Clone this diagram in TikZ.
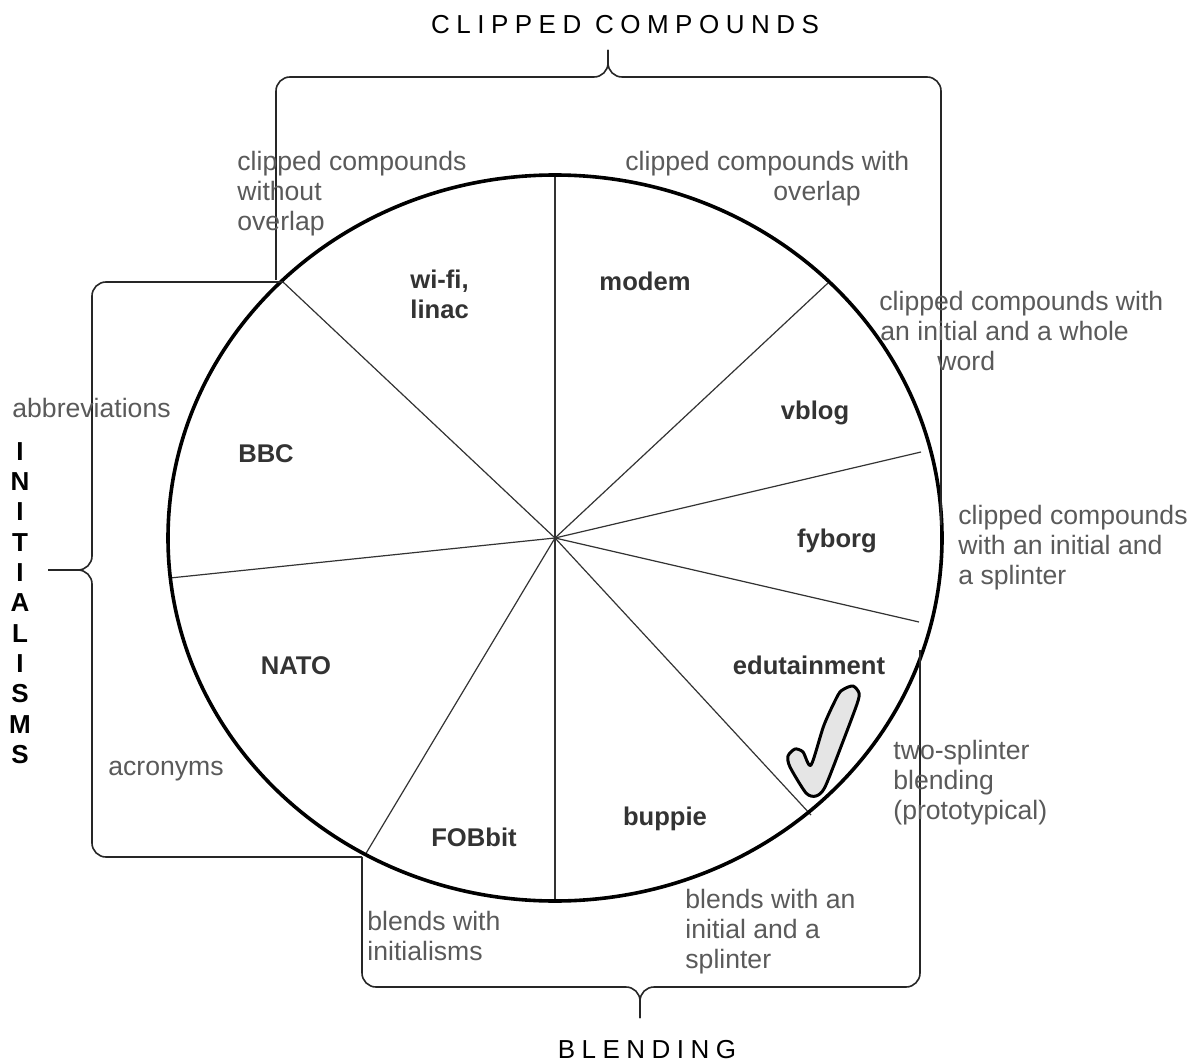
\documentclass[tikz,border=0pt]{standalone}
\usepackage{fontspec}
\setmainfont{Liberation Sans}
\definecolor{labelgray}{HTML}{5A5A5A}
\definecolor{wordgray}{HTML}{333333}
\tikzset{
  wheel/.style = {line width=1.8pt, draw=black},
  spoke/.style = {line width=0.6pt, draw=black!80},
  brace/.style = {line width=0.8pt, draw=black!85, rounded corners=7pt},
  note/.style = {anchor=north west, inner sep=0pt, align=left, text=labelgray,
    font=\fontsize{13.3}{15}\selectfont},
  word/.style = {anchor=base, inner sep=0pt, text=wordgray,
    font=\fontsize{12.8}{15}\selectfont\bfseries},
  heading/.style = {inner sep=0pt, text=black,
    font=\fontsize{13}{15}\selectfont\addfontfeatures{LetterSpace=25}},
  tick/.style = {line width=1.5pt, draw=black, fill=black!10, line join=round},
}

\begin{document}
\begin{tikzpicture}[x=0.5pt, y=-0.5pt]

	%------------------------------Frame------------------------------
	\fill[white] (0,0) rectangle (1197,1063);
	\useasboundingbox (0,0) rectangle (1197,1063);

	%------------------------------Wheel------------------------------
	\coordinate (hub) at (555,538);
	\foreach \p in {(555,175),(828,283),(921,452),(919,622),(811,815),
		(555,900),(365,855),(170,578),(283,282)}
		\draw[spoke] (hub) -- \p;
	\draw[wheel] (hub) ellipse [x radius=387, y radius=363];

	%------------------------------Braces------------------------------
	\node[heading] (clipped) at (625,25) {CLIPPED COMPOUNDS};
	\node[heading] (blending) at (647,1050) {BLENDING};
	\node[inner sep=0pt, align=center, text=black,
		font=\fontsize{13}{15.15}\selectfont\bfseries] (initialisms) at (20,603)
		{I\\N\\I\\T\\I\\A\\L\\I\\S\\M\\S};

	\coordinate (top tip) at (608,50);
	\coordinate (left tip) at (48,570);
	\coordinate (bottom tip) at (640,1018);

	\draw[brace] (276,280) -- (276,77) -- (608,77) -- (top tip);
	\draw[brace] (941,525) -- (941,77) -- (608,77) -- (top tip);
	\draw[brace] (283,282) -- (92,282) -- (92,570) -- (left tip);
	\draw[brace] (362,857) -- (92,857) -- (92,570) -- (left tip);
	\draw[brace] (362,857) -- (362,987) -- (640,987) -- (bottom tip);
	\draw[brace] (920,650) -- (920,987) -- (640,987) -- (bottom tip);

	%------------------------------Labels------------------------------
	\node[note] (no overlap) at (237,151) {clipped compounds\\without\\overlap};
	\node[note] (overlap) at (625,151) {clipped compounds with\\\hspace*{74pt}overlap};
	\node[note] (whole word) at (879,291)
		{clipped compounds with\\\hspace*{0.5pt}an initial and a whole\\\hspace*{29pt}word};
	\node[note] (initial splinter) at (958,505) {clipped compounds\\with an initial and\\a splinter};
	\node[note] (two splinter) at (893,740) {two-splinter\\blending\\(prototypical)};
	\node[note] (blend initial) at (685,889) {blends with an\\initial and a\\splinter};
	\node[note] (blend initialisms) at (367,911) {blends with\\initialisms};
	\node[note] (acronyms) at (108,761) {acronyms};
	\node[note] (abbreviations) at (12,398) {abbreviations};

	%------------------------------Examples------------------------------
	\node[word, anchor=north west, align=left] (wifi) at (410,270) {wi-fi,\\linac};
	\node[word] (modem) at (645,291) {modem};
	\node[word] (vblog) at (815,419) {vblog};
	\node[word] (fyborg) at (837,547) {fyborg};
	\node[word] (edutainment) at (809,674) {edutainment};
	\node[word] (buppie) at (665,825) {buppie};
	\node[word] (fobbit) at (474,846) {FOBbit};
	\node[word] (nato) at (296,674) {NATO};
	\node[word] (bbc) at (266,462) {BBC};

	%------------------------------Tick------------------------------
	\filldraw[tick] plot[smooth cycle, tension=0.45] coordinates {
		(844,689) (853,686) (859,693) (857,704) (842,744) (825,787)
		(816,796) (806,793) (790,767) (788,756) (795,749) (803,752)
		(811,765) (824,725) (838,695)};

\end{tikzpicture}
\end{document}
